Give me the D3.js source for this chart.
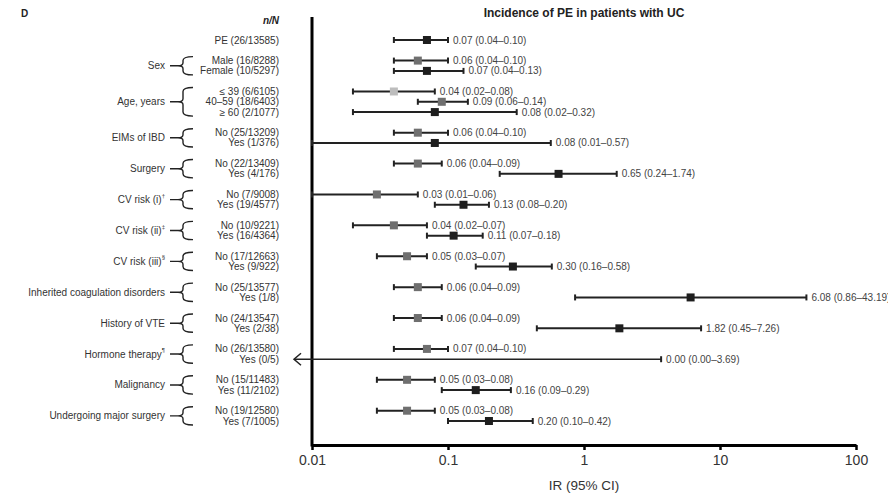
<!DOCTYPE html>
<html lang="en">
<head>
<meta charset="UTF-8">
<title>Incidence of PE in patients with UC</title>
<style>
  body { margin: 0; background: #fff; }
  svg { display: block; font-family: "Liberation Sans", Arial, sans-serif; }
</style>
</head>
<body>
<svg id="chart" width="888" height="497"></svg>
<script src="https://cdnjs.cloudflare.com/ajax/libs/d3/7.8.5/d3.min.js"></script>
<script>
// group labels (first one has no bracket) and their superscript marks
const groups = ["", "Sex", "Age, years", "EIMs of IBD", "Surgery", "CV risk (i)", "CV risk (ii)", "CV risk (iii)",
  "Inherited coagulation disorders", "History of VTE", "Hormone therapy", "Malignancy", "Undergoing major surgery"];
const groupSup = ["", "", "", "", "", "\u2020", "\u2021", "\u00a7", "", "", "\u00b6", "", ""];

// one entry per row
const rowGroup = [0, 1, 1, 2, 2, 2, 3, 3, 4, 4, 5, 5, 6, 6, 7, 7, 8, 8, 9, 9, 10, 10, 11, 11, 12, 12];
const rowLabel = ["PE (26/13585)", "Male (16/8288)", "Female (10/5297)",
  "\u2264 39 (6/6105)", "40\u201359 (18/6403)", "\u2265 60 (2/1077)",
  "No (25/13209)", "Yes (1/376)", "No (22/13409)", "Yes (4/176)",
  "No (7/9008)", "Yes (19/4577)", "No (10/9221)", "Yes (16/4364)",
  "No (17/12663)", "Yes (9/922)", "No (25/13577)", "Yes (1/8)",
  "No (24/13547)", "Yes (2/38)", "No (26/13580)", "Yes (0/5)",
  "No (15/11483)", "Yes (11/2102)", "No (19/12580)", "Yes (7/1005)"];
const ir = [0.07, 0.06, 0.07, 0.04, 0.09, 0.08, 0.06, 0.08, 0.06, 0.65, 0.03, 0.13, 0.04, 0.11,
  0.05, 0.30, 0.06, 6.08, 0.06, 1.82, 0.07, 0.00, 0.05, 0.16, 0.05, 0.20];
const ciLow = [0.04, 0.04, 0.04, 0.02, 0.06, 0.02, 0.04, 0.01, 0.04, 0.24, 0.01, 0.08, 0.02, 0.07,
  0.03, 0.16, 0.04, 0.86, 0.04, 0.45, 0.04, 0.00, 0.03, 0.09, 0.03, 0.10];
const ciHigh = [0.10, 0.10, 0.13, 0.08, 0.14, 0.32, 0.10, 0.57, 0.09, 1.74, 0.06, 0.20, 0.07, 0.18,
  0.07, 0.58, 0.09, 43.19, 0.09, 7.26, 0.10, 3.69, 0.08, 0.29, 0.08, 0.42];
const shade = ["k", "g", "k", "l", "g", "k", "g", "k", "g", "k", "g", "k", "g", "k",
  "g", "k", "g", "k", "g", "k", "g", "k", "g", "k", "g", "k"];
const xTicks = [0.01, 0.1, 1, 10, 100];

const shadeColor = { k: "#1e1e1e", g: "#6f6f6f", l: "#bdbdbd" };
const fmt = d3.format(".2f");

// slot positions: one slot per row, an empty slot between groups
let slot = 0;
const rowSlot = rowGroup.map((g, i) => {
  if (i > 0 && g !== rowGroup[i - 1]) slot += 2;
  else if (i > 0) slot += 1;
  return slot;
});

const rows = rowLabel.map((label, i) => ({
  label, group: rowGroup[i], ir: ir[i], lo: ciLow[i], hi: ciHigh[i], shade: shade[i], slot: rowSlot[i]
}));

const svg = d3.select("#chart");
const x = d3.scaleLog().domain([0.01, 100]).range([312, 856]);
const y = d3.scaleLinear().domain([0, slot]).range([40, 421]);
const axisY = 445;

// title, panel letter, n/N header
svg.append("text").attr("x", 21).attr("y", 17).attr("font-size", 10).attr("font-weight", "bold")
  .attr("fill", "#222").text("D");
svg.append("text").attr("x", 584).attr("y", 16.5).attr("text-anchor", "middle")
  .attr("font-size", 12).attr("font-weight", "bold").attr("fill", "#222")
  .text("Incidence of PE in patients with UC");
svg.append("text").attr("x", 279).attr("y", 24).attr("text-anchor", "end")
  .attr("font-size", 10).attr("font-weight", "bold").attr("font-style", "italic").attr("fill", "#222")
  .text("n/N");

// row labels
svg.append("g").selectAll("text").data(rows).join("text")
  .attr("x", 279).attr("y", d => y(d.slot)).attr("dy", "0.35em")
  .attr("text-anchor", "end").attr("font-size", 10).attr("fill", "#333")
  .text(d => d.label);

// group labels with brackets
const groupInfo = groups.map((name, gi) => {
  const rs = rows.filter(r => r.group === gi);
  return { name, sup: groupSup[gi], top: y(rs[0].slot), bot: y(rs[rs.length - 1].slot) };
}).filter(g => g.name !== "");

const gg = svg.append("g").selectAll("g").data(groupInfo).join("g");
gg.append("text")
  .attr("x", 165).attr("y", d => (d.top + d.bot) / 2).attr("dy", "0.35em")
  .attr("text-anchor", "end").attr("font-size", 10).attr("fill", "#333")
  .each(function (d) {
    const t = d3.select(this);
    t.append("tspan").text(d.name);
    if (d.sup) t.append("tspan").attr("font-size", 6).attr("dy", "-0.9em").text(d.sup);
  });
gg.append("path")
  .attr("fill", "none").attr("stroke", "#222").attr("stroke-width", 1.4)
  .attr("d", d => {
    const t = d.top - 4, b = d.bot + 4, m = (t + b) / 2;
    return `M193,${t} Q183,${t} 183,${t + 4} L183,${m - 3} Q183,${m} 178,${m} Q183,${m} 183,${m + 3}` +
      ` L183,${b - 4} Q183,${b} 193,${b} M170,${m} L178,${m}`;
  });

// axes
svg.append("line").attr("x1", x(0.01)).attr("x2", x(0.01)).attr("y1", 17).attr("y2", axisY + 1.5)
  .attr("stroke", "#000").attr("stroke-width", 3);

const xAxis = svg.append("g").attr("transform", `translate(0,${axisY})`)
  .call(d3.axisBottom(x).tickValues(xTicks).tickFormat(d => String(d)).tickSize(5).tickSizeOuter(0).tickPadding(5));
xAxis.select(".domain").attr("stroke", "#000").attr("stroke-width", 3);
xAxis.selectAll(".tick line").attr("stroke", "#000").attr("stroke-width", 2.5);
xAxis.selectAll(".tick text").attr("font-size", 14).attr("fill", "#333")
  .attr("font-family", "\"Liberation Sans\", Arial, sans-serif");

svg.append("text").attr("x", 584).attr("y", 490).attr("text-anchor", "middle")
  .attr("font-size", 13.5).attr("fill", "#333").text("IR (95% CI)");

// whiskers
const arrowTip = x(0.01) - 18;
const lx = d => d.lo > 0 ? x(d.lo) : arrowTip;
const marks = svg.append("g").selectAll("g").data(rows).join("g")
  .attr("transform", d => `translate(0,${y(d.slot)})`);

marks.append("line")
  .attr("x1", lx).attr("x2", d => x(d.hi))
  .attr("stroke", "#222").attr("stroke-width", d => d.lo > 0 ? 2 : 1.5);
marks.filter(d => d.lo > 0).append("line")
  .attr("x1", d => x(d.lo)).attr("x2", d => x(d.lo)).attr("y1", -3).attr("y2", 3)
  .attr("stroke", "#222").attr("stroke-width", 2);
marks.append("line")
  .attr("x1", d => x(d.hi)).attr("x2", d => x(d.hi)).attr("y1", -3).attr("y2", 3)
  .attr("stroke", "#222").attr("stroke-width", 2);
marks.filter(d => d.lo === 0).append("path")
  .attr("fill", "none").attr("stroke", "#222").attr("stroke-width", 1.5)
  .attr("d", () => `M${arrowTip + 7},-6 L${arrowTip},0 L${arrowTip + 7},6`);

// point estimates
marks.filter(d => d.ir > 0).append("rect")
  .attr("x", d => x(d.ir) - 4).attr("y", -4).attr("width", 8).attr("height", 8)
  .attr("fill", d => shadeColor[d.shade]);

// value labels
marks.append("text")
  .attr("x", d => x(d.hi) + 5).attr("dy", "0.35em")
  .attr("font-size", 10).attr("fill", "#444")
  .text(d => `${fmt(d.ir)} (${fmt(d.lo)}\u2013${fmt(d.hi)})`);
</script>
</body>
</html>
